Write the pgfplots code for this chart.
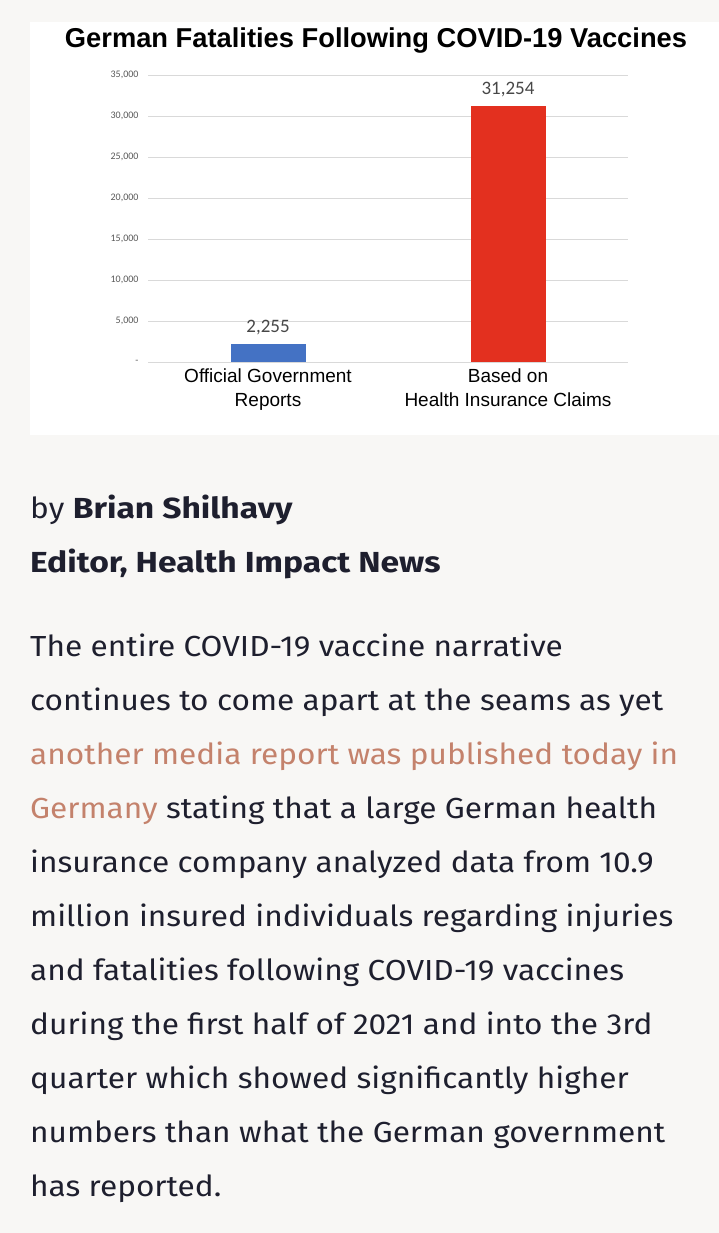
\documentclass[border=0pt]{standalone}
\usepackage{pgfplots}
\pgfplotsset{compat=1.18}
\usepackage{fontspec}
\setmainfont{Fira Sans}[FakeStretch=1.09, BoldFeatures={FakeStretch=1.16}]
\newfontfamily\arial{Liberation Sans}
\newfontfamily\calibri{Carlito}
\definecolor{pagebg}{HTML}{F8F7F5}
\definecolor{ink}{HTML}{1E1F2E}
\definecolor{link}{HTML}{C4826C}
\definecolor{barblue}{HTML}{4472C4}
\definecolor{barred}{HTML}{E3301F}
\definecolor{gridgray}{HTML}{D9D9D9}
\definecolor{ticktext}{HTML}{595959}
\begin{document}
\begin{tikzpicture}[x=1pt,y=1pt]
% page and chart panel
\fill[pagebg] (0,0) rectangle (719,-1233);
\fill[white] (30,-22) rectangle (719,-435);
\node[font=\arial\bfseries\fontsize{27.3}{30}\selectfont, anchor=center, inner sep=0pt] at (376,-40.5) {German Fatalities Following COVID-19 Vaccines};
\begin{axis}[
    at={(148pt,-362pt)}, anchor=south west,
    scale only axis, width=480pt, height=287pt,
    xmin=-0.5, xmax=1.5, ymin=0, ymax=35000,
    axis line style={draw=none},
    tick style={draw=none},
    ymajorgrids, grid style={gridgray, line width=0.8pt},
    scaled y ticks=false,
    ytick={0,5000,10000,15000,20000,25000,30000,35000},
    yticklabels={{-},{5,000},{10,000},{15,000},{20,000},{25,000},{30,000},{35,000}},
    yticklabel style={font=\calibri\fontsize{10}{12}\selectfont, text=ticktext, xshift=-6pt},
    xtick={0,1},
    xticklabels={{Official Government\\Reports},{Based on\\Health Insurance Claims}},
    xticklabel style={font=\arial\fontsize{19}{24}\selectfont, align=center, yshift=1pt},
    ybar, bar width=75pt, bar shift=0pt,
    nodes near coords,
    nodes near coords style={font=\calibri\fontsize{19}{21}\selectfont, text=ticktext!80!black, yshift=5pt,
        /pgf/number format/.cd, 1000 sep={,}, assume math mode=true},
    clip=false,
]
\addplot[fill=barblue, draw=none] coordinates {(0,2255)};
\addplot[fill=barred, draw=none] coordinates {(1,31254)};
\end{axis}
% article text
\begin{scope}[every node/.style={anchor=base west, inner sep=0pt, text=ink, font=\fontsize{29}{34}\selectfont}]
\node at (30,-518) {by \textbf{Brian Shilhavy}};
\node at (30,-572) {\textbf{Editor, Health Impact News}};
\node at (30,-656) {The entire COVID-19 vaccine narrative};
\node at (30,-710) {continues to come apart at the seams as yet};
\node at (30,-764) {\textcolor{link}{another media report was published today in}};
\node at (30,-818) {\textcolor{link}{Germany} stating that a large German health};
\node at (30,-872) {insurance company analyzed data from 10.9};
\node at (30,-926) {million insured individuals regarding injuries};
\node at (30,-980) {and fatalities following COVID-19 vaccines};
\node at (30,-1034) {during the first half of 2021 and into the 3rd};
\node at (30,-1088) {quarter which showed significantly higher};
\node at (30,-1142) {numbers than what the German government};
\node at (30,-1196) {has reported.};
\end{scope}
\end{tikzpicture}
\end{document}
